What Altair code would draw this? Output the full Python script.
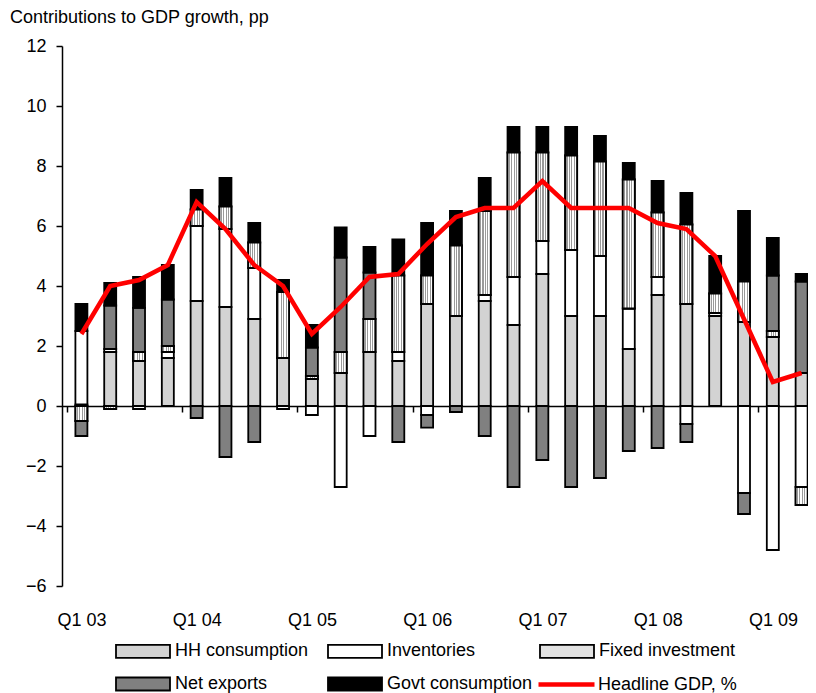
import json
import altair as alt
import pandas as pd

FONT = "Liberation Sans"

quarters = ["Q1 03", "Q2 03", "Q3 03", "Q4 03", "Q1 04", "Q2 04", "Q3 04", "Q4 04",
            "Q1 05", "Q2 05", "Q3 05", "Q4 05", "Q1 06", "Q2 06", "Q3 06", "Q4 06",
            "Q1 07", "Q2 07", "Q3 07", "Q4 07", "Q1 08", "Q2 08", "Q3 08", "Q4 08",
            "Q1 09", "Q2 09"]

components = ["HH consumption", "Inventories", "Fixed investment", "Net exports", "Govt consumption"]

hh = [0.05, 1.8, 1.5, 1.6, 3.5, 3.3, 2.9, 1.6, 0.9, 1.1, 1.8, 1.5, 3.4, 3.0, 3.5, 2.7,
      4.4, 3.0, 3.0, 1.9, 3.7, 3.4, 3.0, 2.8, 2.3, 1.1]
inv = [2.45, 0.1, -0.1, 0.2, 2.5, 2.6, 1.7, -0.1, -0.3, -2.7, -1.0, 0.3, -0.3, 0.0, 0.2, 1.6,
       1.1, 2.2, 2.0, 1.35, 0.6, -0.6, 0.1, -2.9, -4.8, -2.7]
fixed = [-0.5, -0.1, 0.3, 0.2, 0.55, 0.75, 0.85, 2.2, 0.1, 0.7, 1.1, 2.55, 0.95, 2.35, 2.8, 4.15,
         2.95, 3.15, 3.15, 4.3, 2.15, 2.65, 0.65, 1.35, 0.2, -0.6]
netex = [-0.5, 1.45, 1.47, 1.55, -0.4, -1.7, -1.2, 0.0, 0.95, 3.15, 1.55, -1.2, -0.42, -0.2, -1.0, -2.7,
         -1.8, -2.7, -2.4, -1.5, -1.4, -0.6, 0.0, -0.7, 1.85, 3.05]
govt = [0.9, 0.75, 1.03, 1.15, 0.65, 0.95, 0.65, 0.4, 0.75, 1.0, 0.85, 1.2, 1.75, 1.15, 1.1, 0.85,
        0.85, 0.95, 0.85, 0.55, 1.05, 1.05, 1.25, 2.35, 1.25, 0.25]
gdp = [2.4, 4.0, 4.2, 4.7, 6.8, 5.9, 4.7, 4.0, 2.4, 3.3, 4.3, 4.4, 5.4, 6.3, 6.6, 6.6,
       7.5, 6.6, 6.6, 6.6, 6.1, 5.9, 5.0, 2.9, 0.8, 1.1]
line_name = "Headline GDP, %"

x_labels = ["Q1 03", "Q1 04", "Q1 05", "Q1 06", "Q1 07", "Q1 08", "Q1 09"]
y_ticks = [-6, -4, -2, 0, 2, 4, 6, 8, 10, 12]

fill_colors = ["#d3d3d3", "#ffffff", "#e2e2e2", "#808080", "#000000"]

# ---- tables built from the arrays ----
rows = []
for k, (name, series) in enumerate(zip(components, [hh, inv, fixed, netex, govt])):
    for i, v in enumerate(series):
        if v != 0:
            rows.append({"idx": i, "quarter": quarters[i], "component": name, "order": k, "value": v})
bars_df = pd.DataFrame(rows)
line_df = pd.DataFrame({"idx": list(range(len(quarters))), "quarter": quarters,
                        "gdp": gdp, "series": [line_name] * len(quarters)})

# ---- scales / axes ----
PLOT_W, PLOT_H = 746, 540
STEP = 29.2
xscale = alt.Scale(domain=[-0.5, -0.5 + PLOT_W / STEP], nice=False, zero=False)
yscale = alt.Scale(domain=[-6, 12], nice=False, zero=False)

boundaries = [-0.5 + 4 * k for k in range(len(x_labels))]
x_axis = alt.Axis(values=boundaries,
                  labelExpr=json.dumps(x_labels) + "[(datum.value + 0.5) / 4]",
                  offset=-180, domain=True, domainColor="black", domainWidth=1.5,
                  ticks=True, tickSize=6, tickColor="black", tickWidth=1.5,
                  labelPadding=199, labelOffset=STEP / 2, labelFlush=False, labelOverlap=False,
                  labelBound=False, grid=False, title=None,
                  labelFont=FONT, labelFontSize=18, labelColor="black")
y_axis = alt.Axis(values=y_ticks, domain=True, domainColor="black", domainWidth=1.5,
                  ticks=True, tickSize=6, tickColor="black", tickWidth=1.5,
                  labelPadding=10, grid=False, title=None,
                  labelFont=FONT, labelFontSize=18, labelColor="black")

x_enc = alt.X("idx:Q", scale=xscale, axis=x_axis, title=None)

stack_base = alt.Chart(bars_df).transform_stack(
    stack="value", groupby=["idx"], as_=["v0", "v1"],
    sort=[alt.SortField("order", order="ascending")]
)

# swatch 54x13 drawn with a small nominal symbol size (20px) so the rows stay compact
bar_legend = alt.Legend(title=None, orient="none", legendX=70, legendY=594,
                        columns=3, gridAlign="all", columnPadding=3, rowPadding=11,
                        direction="horizontal",
                        symbolType="M-2.7,-0.65H2.7V0.65H-2.7Z", symbolSize=400,
                        symbolStrokeColor="black", symbolStrokeWidth=1.8, symbolOpacity=1,
                        labelFontSize=18, labelFont=FONT, labelColor="black",
                        labelOffset=21, labelLimit=300)

bars = stack_base.mark_bar(size=12, stroke="black", strokeWidth=1.8, clip=True, opacity=1).encode(
    x=x_enc,
    y=alt.Y("v0:Q", scale=yscale, axis=y_axis, title=None),
    y2="v1:Q",
    fill=alt.Fill("component:N", scale=alt.Scale(domain=components, range=fill_colors),
                  legend=bar_legend),
)

stops = []
n = 5
for i in range(n):
    a, b, c = i / n, (i + 0.55) / n, (i + 1) / n
    stops += [{"offset": a, "color": "#ffffff"}, {"offset": b, "color": "#ffffff"},
              {"offset": b, "color": "#9a9a9a"}, {"offset": c, "color": "#9a9a9a"}]
stripes = {"gradient": "linear", "x1": 0, "y1": 0, "x2": 1, "y2": 0, "stops": stops}

fixed_overlay = stack_base.transform_filter(
    alt.datum.component == "Fixed investment"
).mark_bar(size=12, stroke="black", strokeWidth=1.8, clip=True, fill=stripes).encode(
    x=x_enc,
    y=alt.Y("v0:Q", scale=yscale, axis=y_axis, title=None),
    y2="v1:Q",
)

line_legend = alt.Legend(title=None, orient="none", legendX=474, legendY=608,
                         symbolType="stroke", symbolSize=3136, symbolStrokeWidth=4.5,
                         labelFontSize=18, labelFont=FONT, labelColor="black",
                         labelOffset=1, labelLimit=300)

line = alt.Chart(line_df).mark_line(strokeWidth=4.5, clip=True, strokeJoin="miter").encode(
    x=x_enc,
    y=alt.Y("gdp:Q", scale=yscale, axis=y_axis, title=None),
    stroke=alt.Stroke("series:N", scale=alt.Scale(domain=[line_name], range=["#ff0000"]),
                      legend=line_legend),
)

chart = alt.layer(bars, fixed_overlay, line).properties(
    width=PLOT_W, height=PLOT_H,
    padding={"left": 54, "top": 38, "right": 0, "bottom": 107},
    autosize=alt.AutoSizeParams(type="none"),
    background="white",
    title=alt.TitleParams("Contributions to GDP growth, pp", anchor="start", frame="group",
                          dx=-52, offset=10, fontSize=18, font=FONT, fontWeight="normal",
                          color="black"),
).configure_view(stroke=None)

chart.save("out.html", embed_options={"renderer": "svg", "actions": False})
